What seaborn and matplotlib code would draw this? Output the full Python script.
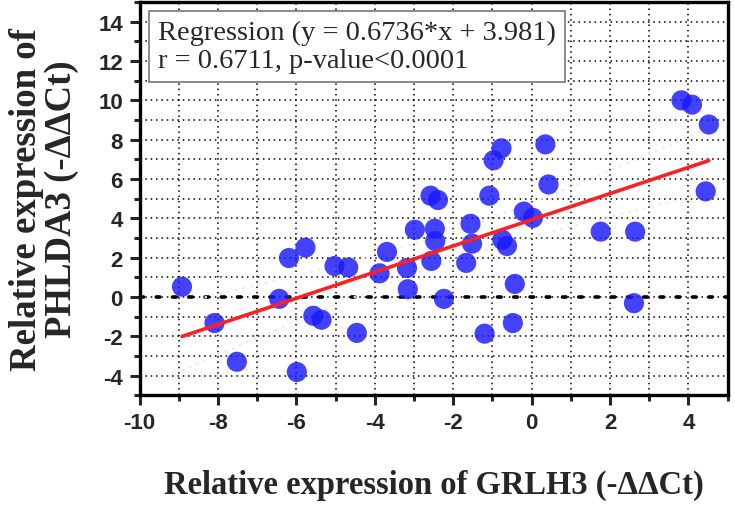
"""
Scatter of PHLDA3 vs GRLH3 relative expression with linear regression
Output: out.png
"""

import numpy as np
import pandas as pd
import matplotlib
matplotlib.use("Agg")
import matplotlib.pyplot as plt
from matplotlib.ticker import MultipleLocator
import seaborn as sns

# values
grlh3 = [-8.92, -8.09, -7.52, -5.99, -6.44, -6.19, -5.77, -5.57, -5.36, -5.03,
         -4.68, -4.46, -3.88, -3.69, -3.18, -3.16, -2.98, -2.58, -2.39, -2.47,
         -2.46, -2.56, -2.24, -1.08, -1.56, -1.52, -1.67, -1.20, -0.75, -0.63,
         -0.20, 0.03, -0.43, -0.48, 0.43, 1.76, 2.64, 2.61, 4.44, 3.82,
         4.09, 4.52, 0.35, -0.77, -0.97]
phlda3 = [0.52, -1.33, -3.30, -3.82, -0.10, 1.98, 2.51, -0.96, -1.16, 1.57,
          1.50, -1.83, 1.20, 2.29, 1.47, 0.39, 3.42, 5.15, 4.93, 3.47,
          2.84, 1.83, -0.10, 5.15, 3.72, 2.71, 1.73, -1.87, 2.91, 2.59,
          4.34, 4.02, 0.66, -1.33, 5.72, 3.32, 3.32, -0.32, 5.37, 10.00,
          9.78, 8.77, 7.76, 7.56, 6.95]

x_ticks = [-10, -8, -6, -4, -2, 0, 2, 4]
y_ticks = [-4, -2, 0, 2, 4, 6, 8, 10, 12, 14]

stats_text = "Regression (y = 0.6736*x + 3.981)\nr = 0.6711, p-value<0.0001"
x_label = "Relative expression of GRLH3 (-\u0394\u0394Ct)"
y_label = "Relative expression of\nPHLDA3 (-\u0394\u0394Ct)"

SERIF = ["Liberation Serif", "DejaVu Serif"]


def confidence_band(x, y, grid):
    """95% confidence band of the least-squares line"""
    x = np.asarray(x)
    y = np.asarray(y)
    n = len(x)
    slope, intercept = np.polyfit(x, y, 1)
    resid = y - (slope * x + intercept)
    s = np.sqrt(np.sum(resid ** 2) / (n - 2))
    sxx = np.sum((x - x.mean()) ** 2)
    half = 2.017 * s * np.sqrt(1 / n + (grid - x.mean()) ** 2 / sxx)
    fit = slope * grid + intercept
    return fit - half, fit + half


def main():
    df = pd.DataFrame({"GRLH3": grlh3, "PHLDA3": phlda3})

    sns.set_style("ticks")
    plt.rcParams["font.family"] = ["Liberation Sans", "DejaVu Sans"]
    plt.rcParams["axes.unicode_minus"] = False

    fig = plt.figure(figsize=(7.35, 5.06), dpi=100)
    ax = fig.add_axes([0.19, 0.217, 0.80, 0.777])

    # grid every unit, dotted
    ax.xaxis.set_minor_locator(MultipleLocator(1))
    ax.yaxis.set_minor_locator(MultipleLocator(1))
    ax.grid(which="both", color="black", linestyle=(0, (1, 2.5)), linewidth=1.1)
    ax.set_axisbelow(True)
    ax.axhline(0, color="black", linestyle=(0, (1, 3.5)), linewidth=2.6,
               dash_capstyle="round", zorder=1)

    # confidence band (faint)
    grid = np.linspace(min(grlh3), max(grlh3), 100)
    lo, hi = confidence_band(grlh3, phlda3, grid)
    for band in (lo, hi):
        ax.plot(grid, band, color="#ececd2", linestyle=(0, (1, 2.5)),
                linewidth=1.6, zorder=2)

    sns.scatterplot(data=df, x="GRLH3", y="PHLDA3", ax=ax, s=210,
                    color="#1a1aff", alpha=0.82, edgecolor="none", zorder=3)
    sns.regplot(data=df, x="GRLH3", y="PHLDA3", ax=ax, scatter=False, ci=None,
                truncate=True, line_kws=dict(color="#ff2020", linewidth=2.6, zorder=4))

    ax.set_xlim(-10, 5)
    ax.set_ylim(-5, 15)
    ax.set_xticks(x_ticks)
    ax.set_yticks(y_ticks)

    for side in ["left", "right", "top", "bottom"]:
        ax.spines[side].set_visible(True)
        ax.spines[side].set_linewidth(2.4)
        ax.spines[side].set_color("black")

    ax.tick_params(which="major", length=7, width=2.2, direction="out",
                   labelsize=16, pad=5)
    ax.tick_params(which="minor", length=4, width=2.2, direction="out")
    ax.tick_params(top=False, right=False, which="both")
    for lab in ax.get_xticklabels() + ax.get_yticklabels():
        lab.set_fontweight("bold")

    ax.set_xlabel(x_label, family=SERIF, fontsize=23.5, fontweight="bold",
                  labelpad=26)
    ax.set_ylabel(y_label, family=SERIF, fontsize=26.5, fontweight="bold",
                  labelpad=14, linespacing=1.0)

    ax.text(0.032, 0.955, stats_text, transform=ax.transAxes, va="top", ha="left",
            family=SERIF, fontsize=20.5, linespacing=1.17, zorder=6,
            bbox=dict(boxstyle="square,pad=0.32", facecolor="white",
                      edgecolor="#777777", linewidth=1.2))

    fig.savefig("out.png", dpi=100)
    plt.close(fig)


if __name__ == "__main__":
    main()
